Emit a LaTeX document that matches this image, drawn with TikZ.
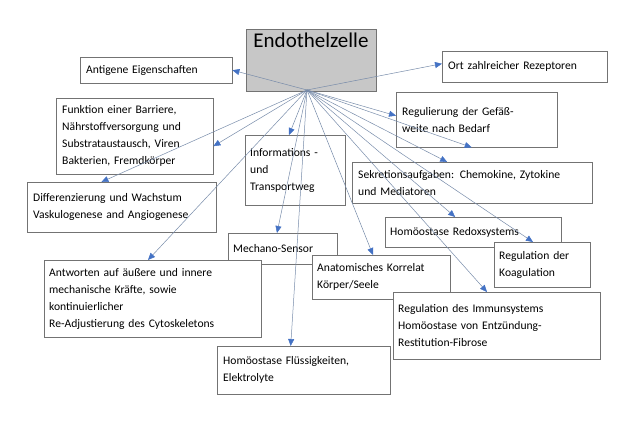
\documentclass[tikz,border=0pt]{standalone}
\usepackage{fontspec}
\setmainfont{Carlito}
\usetikzlibrary{arrows.meta}
\definecolor{arrowblue}{RGB}{68,114,196}
\definecolor{linegray}{RGB}{120,140,170}
\begin{document}
\begin{tikzpicture}[x=1pt,y=-1pt]
   \tikzstyle{mybox}=[rectangle, draw=black!55, thin, fill=white, inner sep=0pt, anchor=north west,
   align=left, font=\fontsize{11.6}{17}\selectfont]
   \tikzstyle{myarrow}=[draw=linegray, line width=0.5pt, -{Triangle[length=7pt,width=6pt,fill=arrowblue,color=arrowblue]}]
   \useasboundingbox (0,0) rectangle (640,427);

   \node[mybox, fill=black!22, minimum width=130, minimum height=62, font=\fontsize{21}{22}\selectfont, anchor=north]
      (endo) at (311,29) {Endothelzelle\\[18pt]};
   \coordinate (hub) at (307,90);

   \node[mybox, minimum width=152, minimum height=26, text width=140] (anti) at (80,57) {Antigene Eigenschaften};
   \node[mybox, minimum width=165, minimum height=31, text width=153] (ort) at (442,51) {Ort zahlreicher Rezeptoren};
   \node[mybox, minimum width=157, minimum height=76, text width=145] (funk) at (56,98)
      {Funktion einer Barriere,\\Nährstoffversorgung und\\Substrataustausch, Viren\\Bakterien, Fremdkörper};
   \node[mybox, minimum width=161, minimum height=55, text width=149] (regu) at (396,92) {Regulierung der Gefäß-\\weite nach Bedarf};
   \node[mybox, minimum width=100, minimum height=70, text width=90] (info) at (245,135) {Informations -\\und\\Transportweg};
   \node[mybox, minimum width=240, minimum height=41, text width=228] (sekr) at (352,162) {Sekretionsaufgaben: Chemokine, Zytokine\\und Mediatoren};
   \node[mybox, minimum width=189, minimum height=50, text width=177] (diff) at (27,182) {Differenzierung und Wachstum\\Vaskulogenese and Angiogenese};
   \node[mybox, minimum width=176, minimum height=30, text width=166] (redox) at (385,217) {Homöostase Redoxsystems};
   \node[mybox, minimum width=109, minimum height=31, text width=99] (mech) at (228,233) {Mechano-Sensor};
   \node[mybox, minimum width=96, minimum height=45, text width=86] (koag) at (494,242) {Regulation der\\Koagulation};
   \node[mybox, minimum width=138, minimum height=44, text width=128] (anat) at (312,255) {Anatomisches Korrelat\\Körper/Seele};
   \node[mybox, minimum width=217, minimum height=77, text width=207] (antw) at (44,260)
      {Antworten auf äußere und innere\\mechanische Kräfte, sowie\\kontinuierlicher\\ Re-Adjustierung des Cytoskeletons};
   \node[mybox, minimum width=207, minimum height=67, text width=197] (immun) at (393,292)
      {Regulation des Immunsystems\\Homöostase von Entzündung-\\Restitution-Fibrose};
   \node[mybox, minimum width=173, minimum height=48, text width=161] (flues) at (217,346) {Homöostase Flüssigkeiten,\\Elektrolyte};

   % connectors from the hub
   \draw[myarrow] (hub) -- (anti.east);
   \draw[myarrow] (hub) -- ([yshift=3pt]ort.west);
   \draw[myarrow] (hub) -- ([yshift=-10pt]funk.east);
   \draw[myarrow] (hub) -- ([xshift=-115pt]diff.north east);
   \draw[myarrow] (hub) -- ([xshift=44pt]info.north west);
   \draw[myarrow] (hub) -- ([yshift=4pt]regu.west);
   \draw[myarrow] (hub) -- ([xshift=-5pt]regu.south);
   \draw[myarrow] (hub) -- ([xshift=-25pt]sekr.north);
   \draw[myarrow] (hub) -- ([xshift=-18pt]redox.north);
   \draw[myarrow] (hub) -- ([xshift=49pt]mech.north west);
   \draw[myarrow] (hub) -- ([xshift=104pt]antw.north west);
   \draw[myarrow] (hub) -- ([xshift=61pt]anat.north west);
   \draw[myarrow] (hub) -- ([xshift=39pt]koag.north west);
   \draw[myarrow] (hub) -- ([xshift=94pt]immun.north west);
   \draw[myarrow] (hub) -- ([xshift=-13pt]flues.north);
\end{tikzpicture}
\end{document}
